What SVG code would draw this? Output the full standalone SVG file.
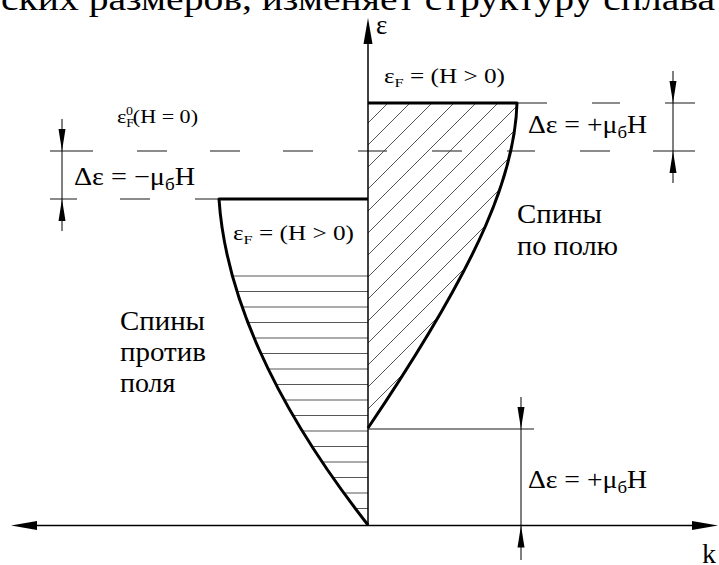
<svg xmlns="http://www.w3.org/2000/svg" xmlns:xlink="http://www.w3.org/1999/xlink" width="719" height="565" viewBox="0 0 719 565">
<style>
.ax{stroke:#000;stroke-width:1.5;fill:none}
.thick{stroke:#000;stroke-width:3;fill:none;stroke-linejoin:round}
.dash{stroke:#666;stroke-width:1.3;fill:none}
.dim{stroke:#000;stroke-width:1;fill:none}
.hatch{stroke:#444;stroke-width:0.9;fill:none}
.t{font-family:"Liberation Serif","Times New Roman",serif;fill:#000}
.m{font-family:"Liberation Serif","Times New Roman",serif;fill:#000}
</style>
<defs>
<path id="ah" d="M0,0 L-3.5,-22 L3.5,-22 Z" fill="#000"/>
<path id="ahb" d="M0,0 L-4.5,-26 L4.5,-26 Z" fill="#000"/>
<clipPath id="clipL"><path d="M368,199 L219,199 C225,290 270,400 368,525 Z"/></clipPath>
<clipPath id="clipR"><path d="M368,103 L517,103 C515,170 485,255 368,428 Z"/></clipPath>
</defs>
<rect width="719" height="565" fill="#fff"/>

<text class="t" x="1" y="10" font-size="33" textLength="714" lengthAdjust="spacingAndGlyphs">ских размеров, изменяет структуру сплава</text>

<g id="dashed-levels">
<path class="dash" d="M50,151H93M137,151H167M210,151H240M283,151H313M358,151H387M432,151H462M507,151H535M580,151H610M653,151H695"/>
<path class="dash" d="M50,199H77M120,199H150M195,199H219"/>
<path class="dash" d="M517,103H547M592,103H620M665,103H695"/>
<path class="dash" d="M368,429H534"/>
</g>

<g id="region-against">
<g clip-path="url(#clipL)">
<path class="hatch" d="M200,276H368M200,291.5H368M200,307H368M200,322.5H368M200,338H368M200,353.5H368M200,369H368M200,384.5H368M200,400H368M200,415.5H368M200,431H368M200,446.5H368M200,462H368M200,477.5H368M200,493H368M200,508.5H368"/>
</g>
<path class="thick" d="M368,199 L219,199 C225,290 270,400 368,525"/>
</g>

<g id="region-along">
<g clip-path="url(#clipR)">
<path class="hatch" d="M368,123L520,-29M368,145L520,-7M368,167L520,15M368,189L520,37M368,211L520,59M368,233L520,81M368,255L520,103M368,277L520,125M368,299L520,147M368,321L520,169M368,343L520,191M368,365L520,213M368,387L520,235M368,409L520,257"/>
</g>
<path class="thick" d="M368,103 L517,103 C515,170 485,255 368,428"/>
</g>

<g id="axes">
<path class="ax" d="M368,40V525.5"/>
<path class="ax" d="M35,525.5H697"/>
<use xlink:href="#ahb" transform="translate(368,18) rotate(180)"/>
<use xlink:href="#ahb" transform="translate(11,525.5) rotate(90)"/>
<use xlink:href="#ahb" transform="translate(718,525.5) rotate(-90)"/>
<text class="m" x="376" y="34" font-size="27">ε</text>
<text class="m" x="702" y="563" font-size="28">k</text>
</g>

<g id="dimensions">
<path class="dim" d="M62,119V231"/>
<use xlink:href="#ah" transform="translate(62,151)"/>
<use xlink:href="#ah" transform="translate(62,199) rotate(180)"/>
<path class="dim" d="M673,71V183"/>
<use xlink:href="#ah" transform="translate(673,103)"/>
<use xlink:href="#ah" transform="translate(673,151) rotate(180)"/>
<path class="dim" d="M521,397V560"/>
<use xlink:href="#ah" transform="translate(521,429)"/>
<use xlink:href="#ah" transform="translate(521,525.5) rotate(180)"/>
</g>

<g id="labels">
<text class="m" x="117" y="123" font-size="19" textLength="81" lengthAdjust="spacingAndGlyphs">ε<tspan font-size="12" dy="4">F</tspan><tspan font-size="12" dx="-7" dy="-12">0</tspan><tspan dy="8">(H = 0)</tspan></text>
<text class="m" x="384" y="83" font-size="20" textLength="121" lengthAdjust="spacingAndGlyphs">ε<tspan font-size="13" dy="4">F</tspan><tspan dy="-4"> = (H &gt; 0)</tspan></text>
<text class="m" x="233" y="240" font-size="20" textLength="121" lengthAdjust="spacingAndGlyphs">ε<tspan font-size="13" dy="4">F</tspan><tspan dy="-4"> = (H &gt; 0)</tspan></text>
<text class="m" x="74" y="185" font-size="25" textLength="121" lengthAdjust="spacingAndGlyphs">Δε = −μ<tspan font-size="17" dy="5">б</tspan><tspan dy="-5">H</tspan></text>
<text class="m" x="528" y="133" font-size="25" textLength="119" lengthAdjust="spacingAndGlyphs">Δε = +μ<tspan font-size="17" dy="5">б</tspan><tspan dy="-5">H</tspan></text>
<text class="m" x="528" y="488" font-size="25" textLength="119" lengthAdjust="spacingAndGlyphs">Δε = +μ<tspan font-size="17" dy="5">б</tspan><tspan dy="-5">H</tspan></text>
<text class="t" x="517" y="223" font-size="28" textLength="85" lengthAdjust="spacingAndGlyphs">Спины</text>
<text class="t" x="517" y="255" font-size="28" textLength="101" lengthAdjust="spacingAndGlyphs">по полю</text>
<text class="t" x="120" y="330" font-size="28" textLength="85" lengthAdjust="spacingAndGlyphs">Спины</text>
<text class="t" x="120" y="361" font-size="28" textLength="86" lengthAdjust="spacingAndGlyphs">против</text>
<text class="t" x="120" y="392" font-size="28">поля</text>
</g>
</svg>
